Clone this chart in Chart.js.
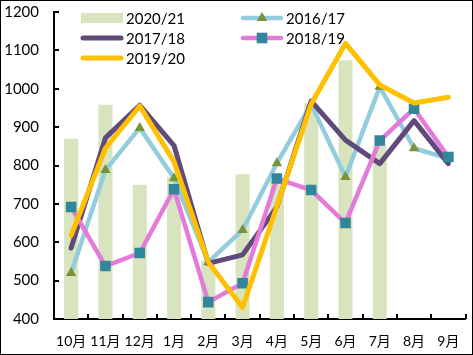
<!DOCTYPE html>
<html>
<head>
<meta charset="utf-8">
<script src="https://cdn.jsdelivr.net/npm/chart.js@4/dist/chart.umd.min.js"></script>
<style>
  html, body { margin: 0; padding: 0; background: #fff; }
  #wrap { position: relative; width: 473px; height: 355px; }
  #frame { position: absolute; left: 0; top: 0; width: 473px; height: 355px; box-sizing: border-box; border: 1px solid #000; pointer-events: none; }
</style>
</head>
<body>
<div id="wrap">
  <canvas id="c" width="473" height="355"></canvas>
  <div id="frame"></div>
</div>
<script>
const months = ['10月','11月','12月','1月','2月','3月','4月','5月','6月','7月','8月','9月'];
const s2020_21 = [870, 958, 750, 770, 552, 777, 760, 962, 1074, 852, null, null];
const s2016_17 = [520, 788, 898, 767, 548, 632, 806, 960, 770, 1005, 845, 818];
const s2017_18 = [585, 872, 957, 852, 545, 567, 692, 968, 866, 805, 917, 805];
const s2018_19 = [692, 538, 572, 738, 444, 493, 766, 736, 650, 865, 948, 822];
const s2019_20 = [618, 845, 955, 810, 548, 430, 693, 960, 1118, 1010, 963, 978];
const yTicks = [400, 500, 600, 700, 800, 900, 1000, 1100, 1200];

const FONT = "Lato, 'Noto Sans CJK SC', sans-serif";

const insideTicks = {
  id: 'insideTicks',
  afterDraw(chart) {
    const ctx = chart.ctx, x = chart.scales.x, y = chart.scales.y;
    ctx.save();
    ctx.strokeStyle = '#000';
    ctx.lineWidth = 2;
    ctx.beginPath();
    y.ticks.forEach((t, i) => {
      const py = Math.round(y.getPixelForTick(i));
      ctx.moveTo(x.left, py); ctx.lineTo(x.left + 5, py);
    });
    const n = x.ticks.length;
    const half = (x.getPixelForTick(1) - x.getPixelForTick(0)) / 2;
    for (let i = 0; i < n; i++) {
      const px = Math.round(x.getPixelForTick(i) + half);
      ctx.moveTo(px, y.bottom); ctx.lineTo(px, y.bottom - 5);
    }
    ctx.stroke();
    ctx.restore();
  }
};

const customLegend = {
  id: 'customLegend',
  afterDraw(chart) {
    const ctx = chart.ctx;
    const colX = [81, 241];
    const rowY = [18, 38, 58];
    const len = 42;
    ctx.save();
    chart.data.datasets.forEach((ds, i) => {
      const x0 = colX[i % 2], yc = rowY[Math.floor(i / 2)];
      if (ds.type === 'bar') {
        ctx.fillStyle = ds.backgroundColor;
        ctx.fillRect(x0, yc - 5, len, 10);
      } else {
        ctx.strokeStyle = ds.borderColor;
        ctx.lineWidth = ds.borderWidth;
        ctx.lineCap = 'round';
        ctx.beginPath();
        ctx.moveTo(x0 + 2, yc); ctx.lineTo(x0 + len - 2, yc);
        ctx.stroke();
        if (ds.pointRadius > 0) {
          ctx.fillStyle = ds.pointBackgroundColor;
          ctx.lineWidth = 0;
          Chart.helpers.drawPoint(ctx, {pointStyle: ds.pointStyle, radius: ds.pointRadius, borderWidth: 0, rotation: 0}, x0 + len / 2, yc);
        }
      }
      ctx.fillStyle = '#000';
      ctx.font = '15px ' + FONT;
      ctx.textBaseline = 'middle';
      ctx.textAlign = 'left';
      ctx.fillText(ds.label, x0 + len + 3, yc + 1);
    });
    ctx.restore();
  }
};

const lineDs = (label, data, color, width, order, extra) => Object.assign({
  type: 'line', label, data, borderColor: color, borderWidth: width,
  tension: 0, fill: false, pointRadius: 0, order,
  borderCapStyle: 'round', borderJoinStyle: 'round'
}, extra || {});

new Chart(document.getElementById('c'), {
  data: {
    labels: months,
    datasets: [
      { type: 'bar', label: '2020/21', data: s2020_21, backgroundColor: '#D7E4BD',
        barPercentage: 0.41, categoryPercentage: 1.0, order: 10 },
      lineDs('2016/17', s2016_17, '#93CDDD', 4.5, 4, {
        pointStyle: 'triangle', pointRadius: 6, pointBackgroundColor: '#77933C',
        pointBorderColor: '#77933C', pointBorderWidth: 0 }),
      lineDs('2017/18', s2017_18, '#604A7B', 5, 3),
      lineDs('2018/19', s2018_19, '#E47AD9', 4.5, 2, {
        pointStyle: 'rect', pointRadius: 7.5, pointBackgroundColor: '#31869C',
        pointBorderColor: '#31869C', pointBorderWidth: 0 }),
      lineDs('2019/20', s2019_20, '#FFC000', 5, 1)
    ]
  },
  options: {
    responsive: false,
    animation: false,
    events: [],
    layout: { padding: { left: 0, right: 5, top: 12, bottom: 0 } },
    plugins: { legend: { display: false }, tooltip: { enabled: false } },
    scales: {
      x: {
        offset: true,
        grid: { display: false, drawTicks: false },
        border: { display: true, color: '#000', width: 2 },
        ticks: { color: '#000', font: { size: 14, family: FONT }, padding: 14,
                 autoSkip: false, maxRotation: 0, minRotation: 0 },
        afterFit(s) { s.height = 36; s.paddingLeft = 0; s.paddingRight = 0; }
      },
      y: {
        min: 400, max: 1200,
        grid: { display: false, drawTicks: false },
        border: { display: true, color: '#000', width: 2 },
        ticks: { color: '#000', font: { size: 15, family: FONT }, padding: 15,
                 stepSize: 100,
                 callback: (v) => yTicks.includes(v) ? String(v) : '' },
        afterFit(s) { s.width = 54; s.paddingTop = 0; s.paddingBottom = 0; }
      }
    }
  },
  plugins: [insideTicks, customLegend]
});
</script>
</body>
</html>
